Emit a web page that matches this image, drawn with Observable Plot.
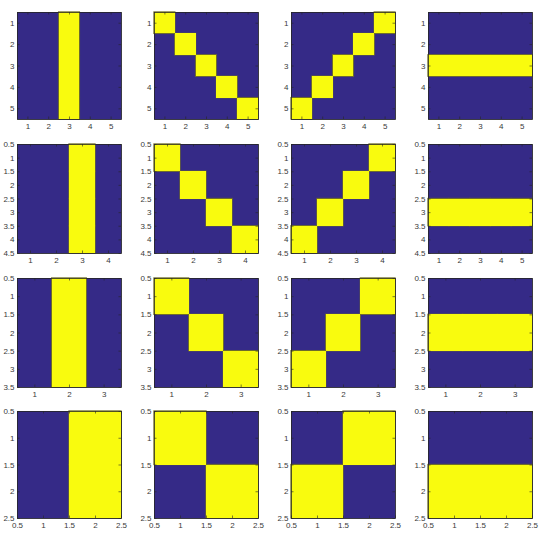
<!DOCTYPE html>
<html><head><meta charset="utf-8">
<script src="https://cdn.jsdelivr.net/npm/d3@7"></script>
<script src="https://cdn.jsdelivr.net/npm/@observablehq/plot@0.6"></script>
<style>
body{margin:0;background:#fff;}
#wrap{position:relative;width:546px;height:537px;overflow:hidden;background:#fff;}
#wrap svg{position:absolute;}
</style></head><body><div id="wrap"></div>
<script>
// ---- data: the 16 matrices (row-major, 1 = yellow) ----
const col5 = [[0,0,1,0,0],[0,0,1,0,0],[0,0,1,0,0],[0,0,1,0,0],[0,0,1,0,0]];
const eye5 = [[1,0,0,0,0],[0,1,0,0,0],[0,0,1,0,0],[0,0,0,1,0],[0,0,0,0,1]];
const anti5 = [[0,0,0,0,1],[0,0,0,1,0],[0,0,1,0,0],[0,1,0,0,0],[1,0,0,0,0]];
const row5 = [[0,0,0,0,0],[0,0,0,0,0],[1,1,1,1,1],[0,0,0,0,0],[0,0,0,0,0]];

const col4 = [[0,0,1,0],[0,0,1,0],[0,0,1,0],[0,0,1,0]];
const eye4 = [[1,0,0,0],[0,1,0,0],[0,0,1,0],[0,0,0,1]];
const anti4 = [[0,0,0,1],[0,0,1,0],[0,1,0,0],[1,0,0,0]];
const row4x5 = [[0,0,0,0,0],[0,0,0,0,0],[1,1,1,1,1],[0,0,0,0,0]];

const col3 = [[0,1,0],[0,1,0],[0,1,0]];
const eye3 = [[1,0,0],[0,1,0],[0,0,1]];
const anti3 = [[0,0,1],[0,1,0],[1,0,0]];
const row3 = [[0,0,0],[1,1,1],[0,0,0]];

const col2 = [[0,1],[0,1]];
const eye2 = [[1,0],[0,1]];
const anti2 = [[0,1],[1,0]];
const row2 = [[0,0],[1,1]];

// ---- tick labels ----
const ticks5 = [1,2,3,4,5];
const ticks4 = [1,2,3,4];
const ticks3 = [1,2,3];
const ticksHalf45 = [0.5,1,1.5,2,2.5,3,3.5,4,4.5];
const ticksHalf35 = [0.5,1,1.5,2,2.5,3,3.5];
const ticksHalf25 = [0.5,1,1.5,2,2.5];

const panels = [
  [ {m: col5, xt: ticks5, yt: ticks5}, {m: eye5, xt: ticks5, yt: ticks5}, {m: anti5, xt: ticks5, yt: ticks5}, {m: row5, xt: ticks5, yt: ticks5} ],
  [ {m: col4, xt: ticks4, yt: ticksHalf45}, {m: eye4, xt: ticks4, yt: ticksHalf45}, {m: anti4, xt: ticks4, yt: ticksHalf45}, {m: row4x5, xt: ticks5, yt: ticksHalf45} ],
  [ {m: col3, xt: ticks3, yt: ticksHalf35}, {m: eye3, xt: ticks3, yt: ticksHalf35}, {m: anti3, xt: ticks3, yt: ticksHalf35}, {m: row3, xt: ticks3, yt: ticksHalf35} ],
  [ {m: col2, xt: ticksHalf25, yt: ticksHalf25}, {m: eye2, xt: ticksHalf25, yt: ticksHalf25}, {m: anti2, xt: ticksHalf25, yt: ticksHalf25}, {m: row2, xt: ticksHalf25, yt: ticksHalf25} ]
];

// ---- layout ----
const colLefts = [17, 154, 291, 428];
const rowTops = [12, 144, 278, 411];
const rowHeights = [107, 109, 109, 107];
const W = 104;
const mL = 24, mR = 6, mT = 5, mB = 16;
const navy = "#352a87", yellow = "#f9fb0e";
const fmt = d => String(d);

const wrap = document.getElementById("wrap");

panels.forEach((row, ri) => {
  row.forEach((p, ci) => {
    const nr = p.m.length, nc = p.m[0].length;
    const cells = p.m.flatMap((r, i) => r.map((v, j) => ({r: i + 1, c: j + 1, v})));
    const on = cells.filter(d => d.v);
    const H = rowHeights[ri];
    const tl = 2.5;
    const rectOpts = {x1: d => d.c - 0.5, x2: d => d.c + 0.5, y1: d => d.r - 0.5, y2: d => d.r + 0.5};
    const svg = Plot.plot({
      width: mL + W + mR,
      height: mT + H + mB,
      marginLeft: mL, marginRight: mR, marginTop: mT, marginBottom: mB,
      x: {domain: [0.5, nc + 0.5]},
      y: {domain: [0.5, nr + 0.5], reverse: true},
      style: {fontFamily: "'Liberation Sans', Arial, sans-serif", fontSize: "8px", color: "#3a3a3a", background: "transparent", overflow: "visible"},
      marks: [
        Plot.frame({fill: navy}),
        Plot.rect(cells, {...rectOpts, fill: d => d.v ? yellow : navy, shapeRendering: "crispEdges"}),
        Plot.rect(on, {...rectOpts, fill: yellow, stroke: "#6e6c2c", strokeWidth: 1.3}),
        Plot.rect(on, {...rectOpts, fill: yellow, shapeRendering: "crispEdges"}),
        Plot.tickX(p.xt, {x: d => d, insetBottom: H - tl, stroke: "#262626", strokeWidth: 0.6}),
        Plot.tickX(p.xt, {x: d => d, insetTop: H - tl, stroke: "#262626", strokeWidth: 0.6}),
        Plot.tickY(p.yt, {y: d => d, insetRight: W - tl, stroke: "#262626", strokeWidth: 0.6}),
        Plot.tickY(p.yt, {y: d => d, insetLeft: W - tl, stroke: "#262626", strokeWidth: 0.6}),
        Plot.frame({stroke: "#262626", strokeWidth: 0.8}),
        Plot.axisX(p.xt, {tickSize: 0, tickPadding: 4, tickFormat: fmt, fill: "#3a3a3a"}),
        Plot.axisY(p.yt, {tickSize: 0, tickPadding: 3, tickFormat: fmt, fill: "#3a3a3a"})
      ]
    });
    svg.style.left = (colLefts[ci] - mL) + "px";
    svg.style.top = (rowTops[ri] - mT) + "px";
    wrap.appendChild(svg);
  });
});
</script>
</body></html>
